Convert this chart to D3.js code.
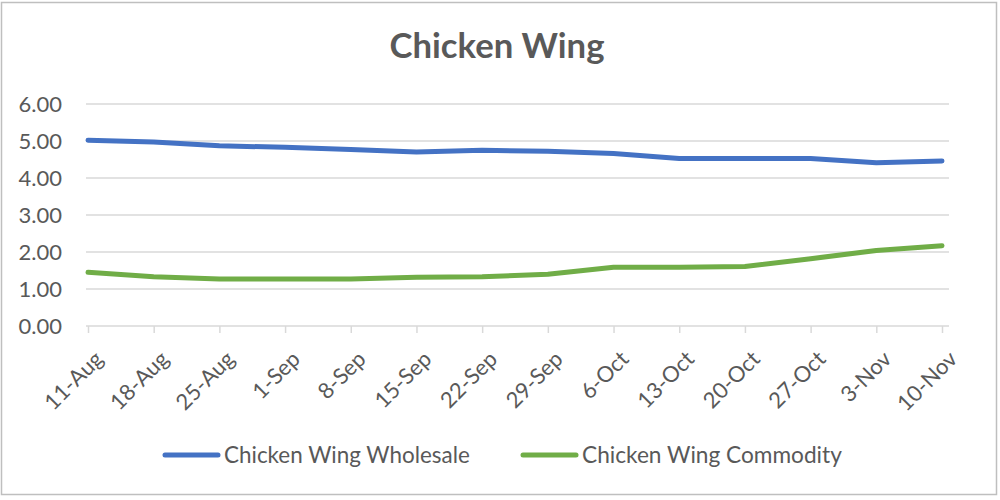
<!DOCTYPE html>
<html>
<head>
<meta charset="utf-8">
<script src="https://cdn.jsdelivr.net/npm/d3@7"></script>
<style>
  html, body { margin: 0; padding: 0; background: #fff; }
  svg { display: block; }
  text { font-family: Lato, "Open Sans", "Liberation Sans", sans-serif; fill: #595959; }
</style>
</head>
<body>
<svg id="chart" width="1000" height="500"></svg>
<script>
const categories = ["11-Aug","18-Aug","25-Aug","1-Sep","8-Sep","15-Sep","22-Sep","29-Sep","6-Oct","13-Oct","20-Oct","27-Oct","3-Nov","10-Nov"];
const wholesale = [5.02,4.97,4.87,4.83,4.77,4.70,4.75,4.72,4.66,4.53,4.53,4.53,4.41,4.46];
const commodity = [1.45,1.33,1.27,1.27,1.27,1.32,1.33,1.40,1.59,1.59,1.61,1.82,2.04,2.17];
const yTicks = [0,1,2,3,4,5,6];
const seriesNames = ["Chicken Wing Wholesale","Chicken Wing Commodity"];
const seriesColors = ["#4472C4","#70AD47"];
const title = "Chicken Wing";

const svg = d3.select("#chart");

// outer border
svg.append("rect").attr("x",1.5).attr("y",2.5).attr("width",995).attr("height",492)
  .attr("fill","#fff").attr("stroke","#bfbfbf").attr("stroke-width",1.5);

const plotLeft = 86, plotRight = 949;
const x = d3.scalePoint().domain(categories).range([88, 942]);
const y = d3.scaleLinear().domain([0,6]).range([326,104]);

function fitText(sel, targetWidth, startSize) {
  sel.style("font-size", startSize + "px");
  const w = sel.node().getComputedTextLength();
  sel.style("font-size", (startSize * targetWidth / w) + "px");
}

// title
const t = svg.append("text").attr("x", 497).attr("y", 58).attr("text-anchor","middle")
  .style("font-weight","bold").text(title);
fitText(t, 215, 30);

// gridlines
svg.append("g").selectAll("line").data(yTicks.slice(1)).join("line")
  .attr("x1", plotLeft).attr("x2", plotRight)
  .attr("y1", d => y(d)).attr("y2", d => y(d))
  .attr("stroke","#d9d9d9").attr("stroke-width",1.5);

// y axis labels
const yAxis = d3.axisLeft(y).tickValues(yTicks).tickFormat(d3.format(".2f")).tickSize(0).tickPadding(0);
const yg = svg.append("g").attr("transform",`translate(62,0)`).call(yAxis);
yg.select(".domain").remove();
yg.selectAll("text").style("font-size","22px").attr("fill","#595959").style("font-family","Lato, 'Open Sans', sans-serif");

// x axis
const xAxis = d3.axisBottom(x).tickSize(7).tickFormat("");
const xg = svg.append("g").attr("transform",`translate(0,${y(0)})`).call(xAxis);
xg.select(".domain").attr("d", `M${plotLeft},0H${plotRight}`).attr("stroke","#d9d9d9").attr("stroke-width",1.5);
xg.selectAll(".tick line").attr("stroke","#d9d9d9").attr("stroke-width",1.5);

// rotated x labels
svg.append("g").selectAll("text").data(categories).join("text")
  .attr("transform", d => `translate(${x(d)+11},${y(0)+29}) rotate(-45)`)
  .attr("text-anchor","end")
  .attr("dy","0.35em")
  .style("font-size","22px")
  .text(d => d);

// lines
const line = d3.line().x((d,i) => x(categories[i])).y(d => y(d));
[wholesale, commodity].forEach((s, i) => {
  svg.append("path").datum(s).attr("d", line)
    .attr("fill","none").attr("stroke", seriesColors[i]).attr("stroke-width",5)
    .attr("stroke-linejoin","round").attr("stroke-linecap","round");
});

// legend
const legendItems = [
  {x1:165, x2:218, tx:224, tw:246},
  {x1:523, x2:576, tx:582, tw:260}
];
legendItems.forEach((L, i) => {
  svg.append("line").attr("x1",L.x1).attr("x2",L.x2).attr("y1",455).attr("y2",455)
    .attr("stroke",seriesColors[i]).attr("stroke-width",5).attr("stroke-linecap","round");
  const lt = svg.append("text").attr("x",L.tx).attr("y",455).attr("dy","0.35em").text(seriesNames[i]);
  fitText(lt, L.tw, 20);
});
</script>
</body>
</html>
